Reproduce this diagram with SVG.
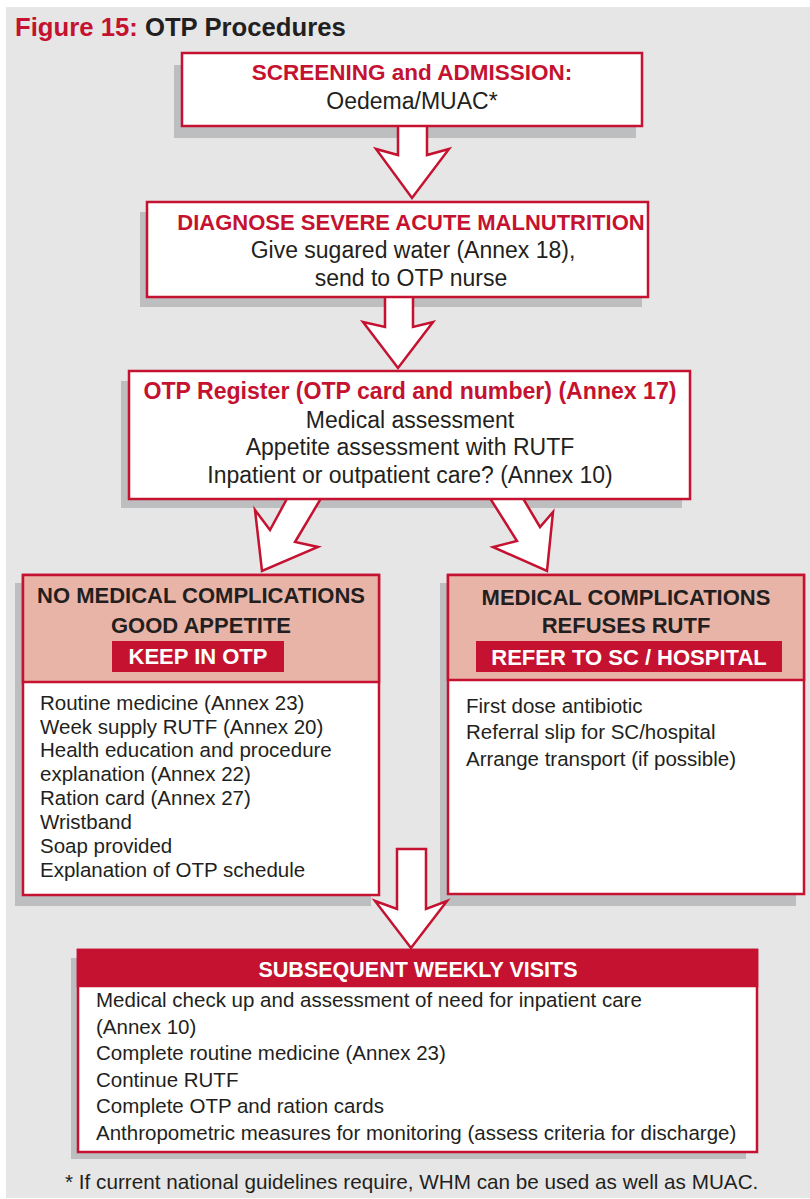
<svg xmlns="http://www.w3.org/2000/svg" width="810" height="1199" viewBox="0 0 810 1199">
<style>
.bg{fill:#E6E6E6}
.sh{fill:#BDBEC0}
.box{fill:#FFFFFF;stroke:#C41230;stroke-width:2.5}
.hdr{fill:#E9B4A8;stroke:#C41230;stroke-width:2.5}
.band{fill:#C41230}
.arr{fill:#FFFFFF;stroke:#C41230;stroke-width:2.5;stroke-linejoin:miter}
text{font-family:"Liberation Sans",Arial,Helvetica,sans-serif;fill:#231F20}
.h{font-weight:bold;font-size:22.5px;fill:#C41230;text-anchor:middle}
.b{font-size:23px;text-anchor:middle}
.hd{font-weight:bold;font-size:22px;text-anchor:middle}
.lab{font-weight:bold;font-size:22px;fill:#FFFFFF;text-anchor:middle}
.t{font-size:20.5px}
</style>
<rect class="bg" x="6" y="7" width="804" height="1191"/>
<text x="15" y="36" style="font-weight:bold;font-size:25.7px"><tspan fill="#C41230">Figure 15:</tspan> OTP Procedures</text>

<g id="shadows">
<rect class="sh" x="174" y="65" width="462" height="73"/>
<rect class="sh" x="140" y="212" width="502" height="95"/>
<rect class="sh" x="121" y="381" width="561" height="127"/>
<rect class="sh" x="15" y="583" width="356" height="323"/>
<rect class="sh" x="440" y="583" width="356" height="323"/>
<rect class="sh" x="71" y="958" width="675" height="201"/>
</g>

<g id="connectors">
<polygon class="arr" points="398,124 398,155 376,149 412,198 449,149 427,155 427,124"/>
<polygon class="arr" points="385,295 385,327 363,322 398,368 433,322 413,327 413,295"/>
<polygon class="arr" points="289,495 270,530 255,510 262,571 318,547 295,542 323,495"/>
<polygon class="arr" points="488,495 517,541 493,547 547,571 553,512 540,527 521,495"/>
<polygon class="arr" points="397,849 397,909 375,901 411,948 447,901 426,909 426,849"/>
</g>

<g id="screening">
<rect class="box" x="182" y="53" width="460" height="73"/>
<text class="h" x="412" y="80">SCREENING and ADMISSION:</text>
<text class="b" x="412" y="109">Oedema/MUAC*</text>
</g>

<g id="diagnose">
<rect class="box" x="147" y="202" width="501" height="95"/>
<text class="h" x="411" y="230" style="font-size:22px">DIAGNOSE SEVERE ACUTE MALNUTRITION</text>
<text class="b" x="413" y="258">Give sugared water (Annex 18),</text>
<text class="b" x="411" y="286">send to OTP nurse</text>
</g>

<g id="register">
<rect class="box" x="129" y="371" width="561" height="128"/>
<text class="h" x="410" y="399" style="font-size:23.1px">OTP Register (OTP card and number) (Annex 17)</text>
<text class="b" x="410" y="428">Medical assessment</text>
<text class="b" x="410" y="455">Appetite assessment with RUTF</text>
<text class="b" x="410" y="483">Inpatient or outpatient care? (Annex 10)</text>
</g>

<g id="keep-otp">
<rect class="box" x="23" y="575" width="356" height="320"/>
<rect class="hdr" x="23" y="575" width="356" height="107"/>
<text class="hd" x="201" y="603">NO MEDICAL COMPLICATIONS</text>
<text class="hd" x="201" y="633">GOOD APPETITE</text>
<rect class="band" x="112" y="641" width="172" height="31"/>
<text class="lab" x="198" y="664">KEEP IN OTP</text>
<text class="t" x="40" y="710">Routine medicine (Annex 23)</text>
<text class="t" x="40" y="734">Week supply RUTF (Annex 20)</text>
<text class="t" x="40" y="757">Health education and procedure</text>
<text class="t" x="40" y="781">explanation (Annex 22)</text>
<text class="t" x="40" y="805">Ration card (Annex 27)</text>
<text class="t" x="40" y="829">Wristband</text>
<text class="t" x="40" y="853">Soap provided</text>
<text class="t" x="40" y="877">Explanation of OTP schedule</text>
</g>

<g id="refer">
<rect class="box" x="448" y="575" width="356" height="319"/>
<rect class="hdr" x="448" y="575" width="356" height="105"/>
<text class="hd" x="626" y="605">MEDICAL COMPLICATIONS</text>
<text class="hd" x="626" y="633">REFUSES RUTF</text>
<rect class="band" x="476" y="641" width="306" height="31"/>
<text class="lab" x="629" y="665">REFER TO SC / HOSPITAL</text>
<text class="t" x="466" y="713">First dose antibiotic</text>
<text class="t" x="466" y="739">Referral slip for SC/hospital</text>
<text class="t" x="466" y="766">Arrange transport (if possible)</text>
</g>

<g id="weekly">
<rect class="box" x="78" y="950" width="679" height="202"/>
<rect class="band" x="78" y="950" width="679" height="36" style="stroke:#C41230;stroke-width:2.5"/>
<text class="lab" x="418" y="977" style="font-size:21.5px">SUBSEQUENT WEEKLY VISITS</text>
<text class="t" x="96" y="1007">Medical check up and assessment of need for inpatient care</text>
<text class="t" x="96" y="1034">(Annex 10)</text>
<text class="t" x="96" y="1060">Complete routine medicine (Annex 23)</text>
<text class="t" x="96" y="1087">Continue RUTF</text>
<text class="t" x="96" y="1113">Complete OTP and ration cards</text>
<text class="t" x="96" y="1140">Anthropometric measures for monitoring (assess criteria for discharge)</text>
</g>

<text class="t" x="65" y="1189" style="font-size:20.7px">* If current national guidelines require, WHM can be used as well as MUAC.</text>
</svg>
